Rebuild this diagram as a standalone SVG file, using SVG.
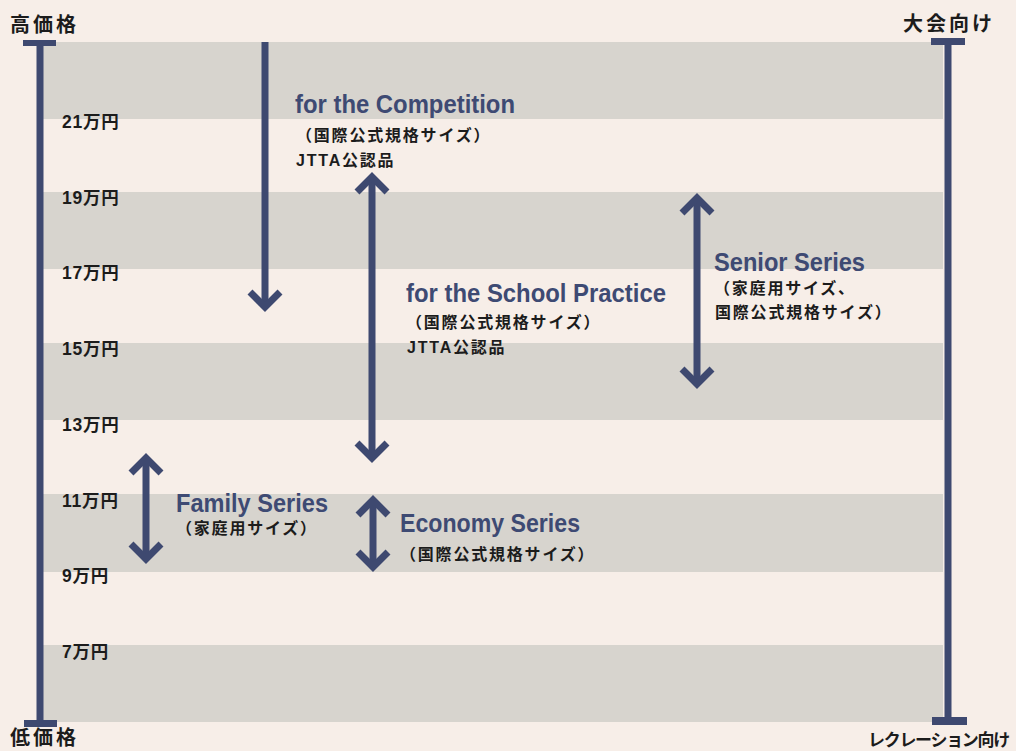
<svg xmlns="http://www.w3.org/2000/svg" width="1016" height="751" viewBox="0 0 1016 751">
<defs>
<style>
.band{fill:#d7d4ce}
.ax{fill:#3e4970}
.axl{stroke:#3e4970;stroke-width:7;fill:none}
.shaft{stroke:#3e4970;stroke-width:7;fill:none}
.head{stroke:#3e4970;stroke-width:7;fill:none;stroke-linejoin:miter;stroke-miterlimit:10}
.title{font-family:"Noto Sans CJK JP","Liberation Sans",sans-serif;font-weight:700;fill:#1c1c1c}
.price{font-family:"Liberation Sans","Noto Sans CJK JP",sans-serif;font-weight:700;font-size:17.5px;letter-spacing:0.8px;fill:#1c1c1c}
.en{font-family:"Liberation Sans","Noto Sans CJK JP",sans-serif;font-weight:700;font-size:25px;fill:#3e4a73}
.jp{font-family:"Liberation Sans","Noto Sans CJK JP",sans-serif;font-weight:700;font-size:16px;letter-spacing:1.8px;fill:#1c1c1c}
</style>
</defs>
<rect width="1016" height="751" fill="#f7eee8"/>
<g id="bands">
<rect class="band" x="40" y="42" width="903" height="77"/>
<rect class="band" x="40" y="192" width="903" height="77"/>
<rect class="band" x="40" y="343" width="903" height="77"/>
<rect class="band" x="40" y="494" width="903" height="78"/>
<rect class="band" x="40" y="645" width="903" height="77"/>
</g>
<g id="axis-price">
<line class="axl" x1="40" y1="43" x2="40" y2="722"/>
<rect class="ax" x="23" y="40" width="33" height="6"/>
<rect class="ax" x="24" y="720" width="33" height="7"/>
<text class="title" x="10" y="32" font-size="20" letter-spacing="3">高価格</text>
<text class="title" x="10" y="745" font-size="20" letter-spacing="3">低価格</text>
</g>
<g id="axis-use">
<line class="axl" x1="948" y1="42" x2="948" y2="720"/>
<rect class="ax" x="931" y="38" width="34" height="7"/>
<rect class="ax" x="932" y="717" width="35" height="8"/>
<text class="title" x="903" y="31" font-size="20" letter-spacing="3">大会向け</text>
<text class="title" x="868" y="746" font-size="17" letter-spacing="-1.3">レクレーション向け</text>
</g>
<g id="price-labels">
<text class="price" x="62" y="128">21万円</text>
<text class="price" x="62" y="203.5">19万円</text>
<text class="price" x="62" y="279">17万円</text>
<text class="price" x="62" y="355">15万円</text>
<text class="price" x="62" y="430.5">13万円</text>
<text class="price" x="62" y="506.5">11万円</text>
<text class="price" x="62" y="582">9万円</text>
<text class="price" x="62" y="657.5">7万円</text>
</g>
<g id="connectors">
<line class="shaft" x1="265" y1="42" x2="265" y2="305"/>
<path class="head" d="M250,292 L265,307 L280,292"/>
<line class="shaft" x1="372" y1="180" x2="372" y2="455"/>
<path class="head" d="M357,192 L372,177 L387,192"/>
<path class="head" d="M357,443 L372,458 L387,443"/>
<line class="shaft" x1="697" y1="201" x2="697" y2="381"/>
<path class="head" d="M682,213 L697,198 L712,213"/>
<path class="head" d="M682,369 L697,384 L712,369"/>
<line class="shaft" x1="146" y1="461" x2="146" y2="556"/>
<path class="head" d="M131,473 L146,458 L161,473"/>
<path class="head" d="M131,544 L146,559 L161,544"/>
<line class="shaft" x1="373" y1="503" x2="373" y2="564"/>
<path class="head" d="M358,515 L373,500 L388,515"/>
<path class="head" d="M358,552 L373,567 L388,552"/>
</g>
<g id="competition">
<text class="en" x="295" y="113" textLength="220" lengthAdjust="spacingAndGlyphs">for the Competition</text>
<text class="jp" x="296" y="141">（国際公式規格サイズ）</text>
<text class="jp" x="296" y="166">JTTA公認品</text>
</g>
<g id="school-practice">
<text class="en" x="406" y="302" textLength="260" lengthAdjust="spacingAndGlyphs">for the School Practice</text>
<text class="jp" x="406" y="328">（国際公式規格サイズ）</text>
<text class="jp" x="407" y="353">JTTA公認品</text>
</g>
<g id="senior-series">
<text class="en" x="714" y="271" textLength="151" lengthAdjust="spacingAndGlyphs">Senior Series</text>
<text class="jp" x="714" y="294">（家庭用サイズ、</text>
<text class="jp" x="715" y="318">国際公式規格サイズ）</text>
</g>
<g id="family-series">
<text class="en" x="176" y="512" textLength="152" lengthAdjust="spacingAndGlyphs">Family Series</text>
<text class="jp" x="176" y="534">（家庭用サイズ）</text>
</g>
<g id="economy-series">
<text class="en" x="400" y="532" textLength="180" lengthAdjust="spacingAndGlyphs">Economy Series</text>
<text class="jp" x="400" y="560">（国際公式規格サイズ）</text>
</g>
</svg>
